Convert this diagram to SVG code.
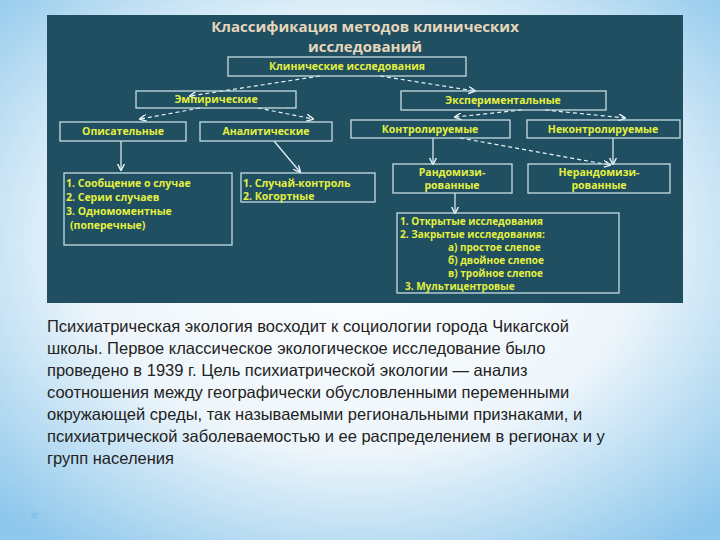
<svg xmlns="http://www.w3.org/2000/svg" width="720" height="540" viewBox="0 0 720 540">
<defs>
<radialGradient id="bg" cx="50%" cy="45%" r="70%">
<stop offset="0" stop-color="#ffffff"/><stop offset="0.55" stop-color="#eef6fb"/><stop offset="1" stop-color="#8fc8ec"/>
</radialGradient>
<marker id="ah" viewBox="0 0 10 10" refX="9" refY="5" markerWidth="6" markerHeight="6" orient="auto"><path d="M0,0 L10,5 L0,10" fill="none" stroke="#e8f4f8" stroke-width="2"/></marker>
<style>
.b{fill:none;stroke:#c8dde4;stroke-width:1.3}
.t{font-family:"Open Sans","DejaVu Sans",sans-serif;font-weight:bold;font-size:10.5px;fill:#e4f040}
.l{font-family:"Open Sans","DejaVu Sans",sans-serif;font-weight:bold;font-size:10px;fill:#e4f040}
.c{stroke:#e8f4f8;stroke-width:1.2;fill:none;marker-end:url(#ah)}
.d{stroke-dasharray:4 3}
.p{font-family:"Liberation Sans",Arial,sans-serif;font-size:16.5px;fill:#222}
</style>
</defs>
<rect width="720" height="540" fill="url(#bg)"/>
<rect x="47" y="15" width="636" height="288" fill="#1f4f60"/>
<text x="365" y="32" text-anchor="middle" font-family="Open Sans,DejaVu Sans,sans-serif" font-weight="bold" font-size="15" fill="#e6d6bc">Классификация методов клинических</text>
<text x="365" y="52" text-anchor="middle" font-family="Open Sans,DejaVu Sans,sans-serif" font-weight="bold" font-size="15" fill="#e6d6bc">исследований</text>
<g id="connectors">
<path class="c d" d="M320,76 L190,96"/>
<path class="c d" d="M380,76 L475,91"/>
<path class="c d" d="M200,108 L140,119"/>
<path class="c d" d="M258,108 L313,119"/>
<path class="c d" d="M522,110 L455,117"/>
<path class="c d" d="M545,110 L625,118"/>
<path class="c" d="M433,138 L433,164"/>
<path class="c d" d="M460,138 L610,165"/>
<path class="c" d="M613,138 L613,164"/>
<path class="c" d="M121,141 L121,170"/>
<path class="c" d="M274,141 L300,172"/>
<path class="c" d="M455,193 L455,213"/>
</g>
<g id="n1"><rect class="b" x="228" y="57" width="238" height="19"/><text class="t" x="347" y="70" text-anchor="middle">Клинические  исследования</text></g>
<g id="n2"><rect class="b" x="136" y="91" width="160" height="17"/><text class="t" x="216" y="103" text-anchor="middle">Эмпирические</text></g>
<g id="n3"><rect class="b" x="401" y="91" width="205" height="19"/><text class="t" x="503" y="104" text-anchor="middle">Экспериментальные</text></g>
<g id="n4"><rect class="b" x="60" y="122" width="126" height="19"/><text class="t" x="123" y="135" text-anchor="middle">Описательные</text></g>
<g id="n5"><rect class="b" x="200" y="122" width="132" height="19"/><text class="t" x="266" y="135" text-anchor="middle">Аналитические</text></g>
<g id="n6"><rect class="b" x="351" y="120" width="159" height="18"/><text class="t" x="430" y="133" text-anchor="middle">Контролируемые</text></g>
<g id="n7"><rect class="b" x="527" y="120" width="153" height="18"/><text class="t" x="603" y="133" text-anchor="middle">Неконтролируемые</text></g>
<g id="n8"><rect class="b" x="64" y="173" width="168" height="72"/>
<text class="t" x="66" y="187">1. Сообщение о случае</text><text class="t" x="66" y="201">2. Серии случаев</text><text class="t" x="66" y="215">3. Одномоментные</text><text class="t" x="70" y="229">(поперечные)</text></g>
<g id="n9"><rect class="b" x="241" y="173" width="134" height="29"/>
<text class="t" x="243" y="187">1. Случай-контроль</text><text class="t" x="243" y="200">2. Когортные</text></g>
<g id="n10"><rect class="b" x="393" y="164" width="119" height="29"/><text class="t" x="452" y="176" text-anchor="middle">Рандомизи-</text><text class="t" x="452" y="189" text-anchor="middle">рованные</text></g>
<g id="n11"><rect class="b" x="528" y="164" width="142" height="29"/><text class="t" x="599" y="176" text-anchor="middle">Нерандомизи-</text><text class="t" x="599" y="189" text-anchor="middle">рованные</text></g>
<g id="n12"><rect class="b" x="397" y="213" width="222" height="80"/>
<text class="l" x="400" y="225">1. Открытые исследования</text>
<text class="l" x="400" y="238">2. Закрытые исследования:</text>
<text class="l" x="448" y="251">а) простое слепое</text>
<text class="l" x="448" y="264">б) двойное слепое</text>
<text class="l" x="448" y="277">в) тройное слепое</text>
<text class="l" x="405" y="290">3. Мультицентровые</text></g>
<g>
<text class="p" x="47" y="332">Психиатрическая экология восходит к социологии города Чикагской</text>
<text class="p" x="47" y="354">школы. Первое классическое экологическое исследование было</text>
<text class="p" x="47" y="376">проведено в 1939 г. Цель психиатрической экологии — анализ</text>
<text class="p" x="47" y="398">соотношения между географически обусловленными переменными</text>
<text class="p" x="47" y="420">окружающей среды, так называемыми региональными признаками, и</text>
<text class="p" x="47" y="442">психиатрической заболеваемостью и ее распределением в регионах и у</text>
<text class="p" x="47" y="464">групп населения</text>
</g>
<text x="30" y="526" font-family="Liberation Sans,sans-serif" font-size="22" fill="#7fc0e8">*</text>
</svg>
